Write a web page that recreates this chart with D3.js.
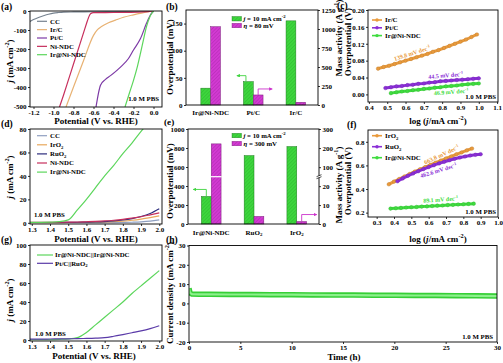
<!DOCTYPE html>
<html>
<head>
<meta charset="utf-8">
<script src="https://cdn.jsdelivr.net/npm/d3@7"></script>
<style>
  body { margin: 0; background: #fff; }
  svg { display: block; font-family: "Liberation Serif", "Times New Roman", serif; font-weight: bold; }
</style>
</head>
<body>
<svg id="fig" width="503" height="363"></svg>
<script>
// ---------------- data ----------------
// (a) HER polarisation curves  [potential V vs RHE, j mA cm-2]
const herCC      = [[-1.235,-55],[-1.2,-45],[-1.15,-34],[-1.1,-25],[-1.05,-17],[-1.0,-11],[-0.95,-8],[-0.9,-6],[-0.8,-5],[-0.6,-4],[-0.3,-2],[0,0]];
const herIrC     = [[-0.875,-505],[-0.8,-400],[-0.7,-262],[-0.6,-128],[-0.56,-98],[-0.52,-82],[-0.45,-62],[-0.38,-48],[-0.3,-33],[-0.2,-20],[-0.12,-11],[-0.05,-4],[0,0]];
const herPtC     = [[-0.575,-505],[-0.53,-390],[-0.48,-360],[-0.43,-340],[-0.33,-295],[-0.25,-250],[-0.2,-205],[-0.13,-145],[-0.07,-65],[-0.03,-20],[0,0]];
const herNiNDC   = [[-0.94,-505],[-0.9,-443],[-0.85,-361],[-0.8,-279],[-0.75,-197],[-0.7,-115],[-0.67,-66],[-0.65,-35],[-0.63,-15],[-0.6,-9],[-0.4,-8],[-0.15,-6],[-0.05,-3],[0,0]];
const herIrNiNDC = [[-0.285,-505],[-0.24,-430],[-0.2,-365],[-0.16,-290],[-0.13,-222],[-0.1,-150],[-0.07,-82],[-0.04,-35],[-0.017,-12],[0,0]];

// (b) HER overpotential / mass activity
const herCats     = ['Ir@Ni-NDC', 'Pt/C', 'Ir/C'];
const herEta10    = [31, 43, 155];      // mV, left axis
const herMassAct  = [1030, 132, 36];    // A g-1 at eta = 80 mV, right axis

// (c) HER Tafel plots  [log j, overpotential V]
const tafIrC     = [[0.45,0.061],[0.48,0.065],[0.51,0.068],[0.54,0.072],[0.57,0.076],[0.60,0.080],[0.63,0.084],[0.66,0.088],[0.69,0.092],[0.72,0.096],[0.75,0.101],[0.78,0.105],[0.81,0.110],[0.84,0.115],[0.87,0.120],[0.90,0.125],[0.93,0.130],[0.96,0.136],[0.99,0.142]];
const tafPtC     = [[0.49,0.015],[0.52,0.017],[0.55,0.019],[0.58,0.020],[0.61,0.022],[0.64,0.023],[0.67,0.025],[0.70,0.026],[0.73,0.028],[0.76,0.029],[0.79,0.031],[0.82,0.032],[0.85,0.033],[0.88,0.034],[0.91,0.035],[0.94,0.036],[0.97,0.037],[1.00,0.038]];
const tafIrNiNDC = [[0.52,0.003],[0.55,0.005],[0.58,0.007],[0.61,0.008],[0.64,0.010],[0.67,0.011],[0.70,0.013],[0.73,0.014],[0.76,0.016],[0.79,0.017],[0.82,0.019],[0.85,0.020],[0.88,0.021],[0.91,0.023],[0.94,0.024],[0.97,0.025],[1.00,0.026]];
const tafHerSlopes = ['139.8', '44.5', '46.9'];

// (d) OER polarisation curves
const oerPot     = [1.29, 1.35, 1.4, 1.45, 1.5, 1.55, 1.6, 1.65, 1.7, 1.75, 1.8, 1.85, 1.9, 1.95, 2.0];
const oerCC      = [0.1, 0.1, 0.1, 0.1, 0.1, 0.1, 0.1, 0.1, 0.2, 0.2, 0.3, 0.5, 0.8, 1.4, 2.5];
const oerIrO2    = [0.2, 0.2, 0.2, 0.2, 0.3, 0.3, 0.4, 0.5, 0.7, 1.0, 1.5, 2.2, 3.2, 4.5, 6.0];
const oerRuO2    = [0.3, 0.3, 0.3, 0.3, 0.4, 0.5, 0.6, 0.8, 1.1, 1.6, 2.4, 3.6, 5.4, 8.0, 12.0];
const oerNiNDC   = [0.5, 0.5, 0.5, 0.5, 0.6, 0.7, 0.9, 1.2, 1.6, 2.2, 3.0, 4.0, 5.2, 6.8, 8.5];
const oerIrNiNDC = [0.3, 0.4, 0.6, 1.0, 2.5, 11, 20, 30, 40, 49, 59, 68, 78, 87, 96];

// (e) OER overpotential / mass activity
const oerCats     = ['Ir@Ni-NDC', 'RuO2', 'IrO2'];
const oerCatText  = ['Ir@Ni-NDC', 'RuO<sub>2</sub>', 'IrO<sub>2</sub>'];
const oerEta10    = [290, 720, 815];    // mV, left axis
const oerMassAct  = [222, 4, 1.3];      // A g-1 at eta = 300 mV, right (broken) axis

// (f) OER Tafel plots
const tafIrO2     = [[0.37,0.440],[0.40,0.463],[0.43,0.485],[0.46,0.506],[0.49,0.527],[0.52,0.547],[0.55,0.567],[0.58,0.586],[0.61,0.605],[0.64,0.623],[0.67,0.641],[0.70,0.659],[0.73,0.676],[0.76,0.694],[0.79,0.710],[0.82,0.727],[0.85,0.743]];
const tafRuO2     = [[0.42,0.466],[0.45,0.490],[0.48,0.512],[0.51,0.532],[0.54,0.551],[0.57,0.569],[0.60,0.586],[0.63,0.602],[0.66,0.617],[0.69,0.631],[0.72,0.644],[0.75,0.656],[0.78,0.667],[0.81,0.676],[0.84,0.684],[0.87,0.690],[0.90,0.695]];
const tafOerIrNi  = [[0.38,0.234],[0.41,0.237],[0.44,0.240],[0.47,0.243],[0.50,0.246],[0.53,0.248],[0.56,0.251],[0.59,0.253],[0.62,0.256],[0.65,0.259],[0.68,0.261],[0.71,0.264],[0.74,0.266],[0.77,0.269],[0.80,0.271],[0.83,0.274],[0.86,0.276]];
const tafOerSlopes = ['663.8', '462.6', '89.1'];

// (g) two-electrode water splitting
const cellPot    = [1.29, 1.35, 1.4, 1.45, 1.5, 1.55, 1.6, 1.65, 1.7, 1.75, 1.8, 1.85, 1.9, 1.95, 2.0];
const cellIrNi   = [0.3, 0.4, 0.5, 0.8, 1.2, 2.5, 8, 16, 24, 32, 40, 49, 57, 65, 73];
const cellPtRuO2 = [1.0, 1.0, 1.1, 1.2, 1.3, 1.5, 1.7, 2.0, 2.5, 4.0, 5.8, 7.7, 9.6, 12.0, 15.0];

// (h) stability test
const stabTime = [0, 0.1, 0.3, 1, 2, 4, 6, 8, 10, 12, 14, 16, 18, 20, 22, 24, 26, 28, 30];
const stabJ    = [7.8, 5.5, 4.8, 4.7, 4.7, 4.6, 4.6, 4.5, 4.5, 4.4, 4.3, 4.3, 4.2, 4.2, 4.1, 4.1, 4.0, 3.9, 3.8];

// tick values
const ticksAx = [-1.2, -1.0, -0.8, -0.6, -0.4, -0.2, 0.0];
const ticksAy = [0, -100, -200, -300, -400, -500];
const ticksBl = [0, 50, 100, 150];
const ticksBr = [0, 250, 500, 750, 1000, 1250];
const ticksCx = [0.4, 0.5, 0.6, 0.7, 0.8, 0.9, 1.0, 1.1];
const ticksCy = [0.00, 0.04, 0.08, 0.12, 0.16, 0.20];
const ticksPot = [1.3, 1.4, 1.5, 1.6, 1.7, 1.8, 1.9, 2.0];
const ticksDy = [0, 20, 40, 60, 80];
const ticksEl = [0, 200, 400, 600, 800, 1000];
const ticksEr = [0, 10, 20, 100, 200, 300];
const ticksFx = [0.3, 0.4, 0.5, 0.6, 0.7, 0.8, 0.9, 1.0];
const ticksFy = [0.2, 0.4, 0.6, 0.8];
const ticksGy = [0, 20, 40, 60, 80, 100];
const ticksHx = [0, 5, 10, 15, 20, 25, 30];
const ticksHy = [-20, -10, 0, 10, 20, 30];

// ---------------- helpers ----------------
const svg = d3.select('#fig');
const defs = svg.append('defs');
const FS = 7;

const GREEN = '#3fd43f', MAGENTA = '#cc33cc';

function richText(t, str, fs) {
  const re = /<(i|sub|sup)>(.*?)<\/\1>/g;
  let last = 0, m, shift = 0;
  const add = (txt, kind) => {
    const want = kind === 'sup' ? -0.4 * fs : kind === 'sub' ? 0.25 * fs : 0;
    const s = t.append('tspan').text(txt);
    if (want !== shift) { s.attr('dy', want - shift); shift = want; }
    if (kind === 'sup' || kind === 'sub') s.attr('font-size', fs * 0.7);
    if (kind === 'i') s.attr('font-style', 'italic');
  };
  while ((m = re.exec(str)) !== null) {
    if (m.index > last) add(str.slice(last, m.index), null);
    add(m[2], m[1]);
    last = re.lastIndex;
  }
  if (last < str.length) add(str.slice(last), null);
}

function label(x, y, str, o = {}) {
  const fs = o.size || FS;
  const t = svg.append('text')
      .attr('x', x).attr('y', y)
      .attr('font-size', fs)
      .attr('text-anchor', o.anchor || 'start')
      .attr('fill', o.fill || '#000');
  if (o.rotate != null) t.attr('transform', `rotate(${o.rotate},${x},${y})`);
  richText(t, str, fs);
  return t;
}

function clip(id, box) {
  defs.append('clipPath').attr('id', id)
    .append('rect').attr('x', box.l).attr('y', box.t)
    .attr('width', box.r - box.l).attr('height', box.b - box.t);
}

function frame(box) {
  svg.append('rect').attr('x', box.l).attr('y', box.t)
    .attr('width', box.r - box.l).attr('height', box.b - box.t)
    .attr('fill', 'none').attr('stroke', '#000').attr('stroke-width', 0.9);
}

function styleAxis(sel) {
  sel.attr('font-family', null).attr('font-size', FS).attr('font-weight', 'bold');
  sel.select('.domain').remove();
  sel.selectAll('.tick line').attr('stroke-width', 0.8);
}

function axisB(box, scale, ticks, fmt) {
  svg.append('g').attr('transform', `translate(0,${box.b})`)
    .call(d3.axisBottom(scale).tickValues(ticks).tickFormat(fmt).tickSize(2).tickPadding(0.8))
    .call(styleAxis);
}
function axisL(box, scale, ticks, fmt) {
  svg.append('g').attr('transform', `translate(${box.l},0)`)
    .call(d3.axisLeft(scale).tickValues(ticks).tickFormat(fmt).tickSize(2).tickPadding(1.5))
    .call(styleAxis);
}
function axisR(box, scale, ticks, fmt) {
  svg.append('g').attr('transform', `translate(${box.r},0)`)
    .call(d3.axisRight(scale).tickValues(ticks).tickFormat(fmt).tickSize(2).tickPadding(1.5))
    .call(styleAxis);
}

function hatch(id, base, line) {
  const p = defs.append('pattern').attr('id', id)
    .attr('patternUnits', 'userSpaceOnUse').attr('width', 2.5).attr('height', 2.5)
    .attr('patternTransform', 'rotate(45)');
  p.append('rect').attr('width', 2.5).attr('height', 2.5).attr('fill', base);
  p.append('line').attr('x1', 0).attr('y1', 0).attr('x2', 0).attr('y2', 2.5)
    .attr('stroke', line).attr('stroke-width', 0.7);
}
hatch('hG', '#3dd63d', '#2aa82a');
hatch('hM', '#d23ad2', '#a020a0');

function arrowHead(id, color) {
  defs.append('marker').attr('id', id).attr('viewBox', '0 0 6 6')
    .attr('refX', 5).attr('refY', 3).attr('markerWidth', 4).attr('markerHeight', 4)
    .attr('orient', 'auto')
    .append('path').attr('d', 'M0,0L6,3L0,6Z').attr('fill', color);
}
arrowHead('arG', GREEN);
arrowHead('arM', MAGENTA);

const fmt1 = d => d.toFixed(1);
const fmt2 = d => d.toFixed(2);
const fmt0 = d => String(d);

function lineLegend(x, y, color, text, dot) {
  svg.append('line').attr('x1', x).attr('x2', x + 10).attr('y1', y).attr('y2', y)
    .attr('stroke', color).attr('stroke-width', dot ? 1.6 : 1.2);
  if (dot) svg.append('circle').attr('cx', x + 5).attr('cy', y).attr('r', 1.7).attr('fill', color);
  label(x + 13, y + 2.3, text, {size: 6.8});
}

// ---------------- (a) HER LSV ----------------
const A = {l: 30, r: 162, t: 11, b: 107};
clip('cA', A);
const xA = d3.scaleLinear().domain([-1.235, 0.085]).range([A.l, A.r]);
const yA = d3.scaleLinear().domain([-505, 0]).range([A.b, A.t]);
const lineA = d3.line().x(d => xA(d[0])).y(d => yA(d[1])).curve(d3.curveMonotoneX);
const seriesA = [
  {name: 'CC', data: herCC, color: '#76828f'},
  {name: 'Ir/C', data: herIrC, color: '#e8b273'},
  {name: 'Pt/C', data: herPtC, color: '#7d3aa6'},
  {name: 'Ni-NDC', data: herNiNDC, color: '#c72f5c'},
  {name: 'Ir@Ni-NDC', data: herIrNiNDC, color: '#5cd65c'}
];
svg.append('g').attr('clip-path', 'url(#cA)').selectAll('path').data(seriesA).join('path')
  .attr('d', s => lineA(s.data)).attr('fill', 'none')
  .attr('stroke', s => s.color).attr('stroke-width', 1.2);
frame(A);
axisB(A, xA, ticksAx, fmt1);
axisL(A, yA, ticksAy, fmt0);
seriesA.forEach((s, i) => lineLegend(37, 21.3 + i * 8.35, s.color, s.name));
label(159, 101, '1.0 M PBS', {anchor: 'end', size: 6.8});
label(96, 124, 'Potential (V vs. RHE)', {anchor: 'middle', size: 9});
label(12.5, 61, '<i>j</i> (mA cm<sup>-2</sup>)', {anchor: 'middle', size: 9, rotate: -90});
label(1, 9.5, '(a)', {size: 9.5});

// ---------------- (b) HER bars ----------------
const B = {l: 186, r: 318, t: 10, b: 105};
const xB = d3.scaleBand().domain(herCats).range([B.l + 2.5, B.r]).paddingInner(0.54).paddingOuter(0.29);
const yBl = d3.scaleLinear().domain([0, 175]).range([B.b, B.t]);
const yBr = d3.scaleLinear().domain([0, 1250]).range([B.b, B.t]);
const bwB = xB.bandwidth() / 2;
svg.append('g').selectAll('rect').data(herCats).join('rect')
  .attr('x', c => xB(c)).attr('width', bwB)
  .attr('y', (c, i) => yBl(herEta10[i])).attr('height', (c, i) => B.b - yBl(herEta10[i]))
  .attr('fill', 'url(#hG)').attr('stroke', '#1f7a1f').attr('stroke-width', 0.5);
svg.append('g').selectAll('rect').data(herCats).join('rect')
  .attr('x', c => xB(c) + bwB).attr('width', bwB)
  .attr('y', (c, i) => yBr(herMassAct[i])).attr('height', (c, i) => B.b - yBr(herMassAct[i]))
  .attr('fill', 'url(#hM)').attr('stroke', '#7a1f7a').attr('stroke-width', 0.5);
frame(B);
axisL(B, yBl, ticksBl, fmt0);
axisR(B, yBr, ticksBr, fmt0);
herCats.forEach(c => label(xB(c) + bwB, 115, c, {anchor: 'middle'}));
// pointer arrows (Pt/C group)
{
  const gx = xB('Pt/C') + 2.5, gy = yBl(herEta10[1]);
  svg.append('path').attr('d', `M${gx},${gy}V${gy - 6}H${gx - 9}`)
    .attr('fill', 'none').attr('stroke', GREEN).attr('stroke-width', 0.9).attr('marker-end', 'url(#arG)');
  const mx = xB('Pt/C') + bwB * 1.5, my = yBr(herMassAct[1]);
  svg.append('path').attr('d', `M${mx},${my}V${my - 6}H${mx + 14}`)
    .attr('fill', 'none').attr('stroke', MAGENTA).attr('stroke-width', 0.9).attr('marker-end', 'url(#arM)');
}
svg.append('rect').attr('x', 232).attr('y', 16.5).attr('width', 9.5).attr('height', 4.5).attr('fill', 'url(#hG)').attr('stroke', '#1f7a1f').attr('stroke-width', 0.4);
svg.append('rect').attr('x', 232).attr('y', 23.3).attr('width', 9.5).attr('height', 4.5).attr('fill', 'url(#hM)').attr('stroke', '#7a1f7a').attr('stroke-width', 0.4);
label(243.5, 21.2, '<i>j</i> = 10 mA cm<sup>-2</sup>', {size: 6.8});
label(243.5, 28, '<i>η</i> = 80 mV', {size: 6.8});
label(172.5, 57, 'Overpotential (mV)', {anchor: 'middle', size: 9, rotate: -90});
label(342, 38, 'Mass activity (A g<sup>-1</sup>)', {anchor: 'middle', size: 9, rotate: -90});
label(166, 9.5, '(b)', {size: 9.5});

// ---------------- (c) HER Tafel ----------------
const C = {l: 368, r: 498, t: 10, b: 102};
clip('cC', C);
const xC = d3.scaleLinear().domain([0.395, 1.105]).range([C.l, C.r]);
const yC = d3.scaleLinear().domain([-0.018, 0.20]).range([C.b, C.t]);
const lineC = d3.line().x(d => xC(d[0])).y(d => yC(d[1]));
const seriesC = [
  {name: 'Ir/C', data: tafIrC, color: '#e99a3c'},
  {name: 'Pt/C', data: tafPtC, color: '#8b2fd6'},
  {name: 'Ir@Ni-NDC', data: tafIrNiNDC, color: '#3fdc3f'}
];
function tafel(series, lineGen, xs, ys, clipId) {
  const g = svg.append('g').attr('clip-path', `url(#${clipId})`);
  series.forEach(s => {
    g.append('path').attr('d', lineGen(s.data)).attr('fill', 'none')
      .attr('stroke', s.color).attr('stroke-width', 3);
    g.selectAll(null).data(s.data).join('circle')
      .attr('cx', d => xs(d[0])).attr('cy', d => ys(d[1])).attr('r', 1.8)
      .attr('fill', s.color).attr('stroke', d3.color(s.color).darker(0.6)).attr('stroke-width', 0.4);
  });
}
tafel(seriesC, lineC, xC, yC, 'cC');
frame(C);
axisB(C, xC, ticksCx, fmt1);
axisL(C, yC, ticksCy, fmt2);
seriesC.forEach((s, i) => lineLegend(372, 20 + i * 7.8, s.color, s.name, true));
label(xC(0.64), yC(0.086) - 3, `${tafHerSlopes[0]} mV dec<sup>-1</sup>`, {anchor: 'middle', size: 6, fill: seriesC[0].color, rotate: -18});
label(xC(0.82), yC(0.032) - 3.5, `${tafHerSlopes[1]} mV dec<sup>-1</sup>`, {anchor: 'middle', size: 6, fill: seriesC[1].color, rotate: -5});
label(xC(0.85), yC(0.020) + 8, `${tafHerSlopes[2]} mV dec<sup>-1</sup>`, {anchor: 'middle', size: 6, fill: seriesC[2].color, rotate: -4});
label(496, 98.5, '1.0 M PBS', {anchor: 'end', size: 6.8});
label(438, 124, 'log (<i>j</i>/mA cm<sup>-2</sup>)', {anchor: 'middle', size: 9});
label(350.5, 42, 'Overpotential (V)', {anchor: 'middle', size: 9, rotate: -90});
label(337, 9, '(c)', {size: 9.5});

// ---------------- (d) OER LSV ----------------
const D = {l: 30, r: 162, t: 129, b: 224};
clip('cD', D);
const xD = d3.scaleLinear().domain([1.29, 2.015]).range([D.l, D.r]);
const yD = d3.scaleLinear().domain([-1, 80]).range([D.b, D.t]);
const lineD = d3.line().x((d, i) => xD(oerPot[i])).y(d => yD(d)).curve(d3.curveMonotoneX);
const seriesD = [
  {name: 'CC', data: oerCC, color: '#8f9fc0'},
  {name: 'IrO<sub>2</sub>', data: oerIrO2, color: '#e8a85c'},
  {name: 'RuO<sub>2</sub>', data: oerRuO2, color: '#2c2c7c'},
  {name: 'Ni-NDC', data: oerNiNDC, color: '#c72f5c'},
  {name: 'Ir@Ni-NDC', data: oerIrNiNDC, color: '#5cd65c'}
];
svg.append('g').attr('clip-path', 'url(#cD)').selectAll('path').data(seriesD).join('path')
  .attr('d', s => lineD(s.data)).attr('fill', 'none')
  .attr('stroke', s => s.color).attr('stroke-width', 1.2);
frame(D);
axisB(D, xD, ticksPot, fmt1);
axisL(D, yD, ticksDy, fmt0);
seriesD.forEach((s, i) => lineLegend(37, 135.7 + i * 9.1, s.color, s.name));
label(34, 217, '1.0 M PBS', {size: 6.8});
label(96, 242.2, 'Potential (V vs. RHE)', {anchor: 'middle', size: 9});
label(12.5, 177, '<i>j</i> (mA cm<sup>-2</sup>)', {anchor: 'middle', size: 9, rotate: -90});
label(1, 127, '(d)', {size: 9.5});

// ---------------- (e) OER bars ----------------
const E = {l: 188, r: 319, t: 129, b: 224};
const xE = d3.scaleBand().domain(oerCats).range([E.l + 1, E.r]).paddingInner(0.54).paddingOuter(0.29);
const yEl = d3.scaleLinear().domain([0, 1000]).range([E.b, E.t]);
const yBreak = 176.7;
const yEr = d3.scaleLinear().domain([0, 25, 50, 300]).range([E.b, yBreak, yBreak, E.t]);
const bwE = xE.bandwidth() / 2;
svg.append('g').selectAll('rect').data(oerCats).join('rect')
  .attr('x', c => xE(c)).attr('width', bwE)
  .attr('y', (c, i) => yEl(oerEta10[i])).attr('height', (c, i) => E.b - yEl(oerEta10[i]))
  .attr('fill', 'url(#hG)').attr('stroke', '#1f7a1f').attr('stroke-width', 0.5);
svg.append('g').selectAll('rect').data(oerCats).join('rect')
  .attr('x', c => xE(c) + bwE).attr('width', bwE)
  .attr('y', (c, i) => yEr(oerMassAct[i])).attr('height', (c, i) => E.b - yEr(oerMassAct[i]))
  .attr('fill', 'url(#hM)').attr('stroke', '#7a1f7a').attr('stroke-width', 0.5);
// axis break stripe across tall bars
oerCats.forEach((c, i) => {
  if (oerMassAct[i] > 50) svg.append('rect').attr('x', xE(c) + bwE - 0.5).attr('y', yBreak - 0.6)
    .attr('width', bwE + 1).attr('height', 1.2).attr('fill', '#fff');
});
frame(E);
axisL(E, yEl, ticksEl, fmt0);
axisR(E, yEr, ticksEr, fmt0);
svg.append('rect').attr('x', E.r - 1).attr('y', yBreak - 1).attr('width', 2).attr('height', 2).attr('fill', '#fff');
[-1, 1].forEach(o => svg.append('line').attr('x1', E.r - 2.5).attr('x2', E.r + 2.5)
  .attr('y1', yBreak + o + 1).attr('y2', yBreak + o - 1).attr('stroke', '#000').attr('stroke-width', 0.7));
oerCats.forEach((c, i) => label(xE(c) + bwE, 234.5, oerCatText[i], {anchor: 'middle'}));
{
  const gx = xE(oerCats[0]) + bwE / 2, gy = yEl(oerEta10[0]);
  svg.append('path').attr('d', `M${gx},${gy}V${gy - 7}H${gx - 13}`)
    .attr('fill', 'none').attr('stroke', GREEN).attr('stroke-width', 0.9).attr('marker-end', 'url(#arG)');
  const mx = xE(oerCats[2]) + bwE * 1.5, my = yEr(oerMassAct[2]);
  svg.append('path').attr('d', `M${mx},${my}V${my - 7}H${mx + 15}`)
    .attr('fill', 'none').attr('stroke', MAGENTA).attr('stroke-width', 0.9).attr('marker-end', 'url(#arM)');
}
svg.append('rect').attr('x', 232).attr('y', 133.3).attr('width', 9.5).attr('height', 4.5).attr('fill', 'url(#hG)').attr('stroke', '#1f7a1f').attr('stroke-width', 0.4);
svg.append('rect').attr('x', 232).attr('y', 141.3).attr('width', 9.5).attr('height', 4.5).attr('fill', 'url(#hM)').attr('stroke', '#7a1f7a').attr('stroke-width', 0.4);
label(243.5, 138, '<i>j</i> = 10 mA cm<sup>-2</sup>', {size: 6.8});
label(243.5, 146, '<i>η</i> = 300 mV', {size: 6.8});
label(172.5, 181, 'Overpotential (mV)', {anchor: 'middle', size: 9, rotate: -90});
label(342, 185, 'Mass activity (A g<sup>-1</sup>)', {anchor: 'middle', size: 9, rotate: -90});
label(164, 124.5, '(e)', {size: 9.2});

// ---------------- (f) OER Tafel ----------------
const F = {l: 368, r: 498, t: 130, b: 217};
clip('cF', F);
const xF = d3.scaleLinear().domain([0.25, 1.0]).range([F.l, F.r]);
const yF = d3.scaleLinear().domain([0.163, 0.9]).range([F.b, F.t]);
const lineF = d3.line().x(d => xF(d[0])).y(d => yF(d[1]));
const seriesF = [
  {name: 'IrO<sub>2</sub>', data: tafIrO2, color: '#e99a3c'},
  {name: 'RuO<sub>2</sub>', data: tafRuO2, color: '#8b2fd6'},
  {name: 'Ir@Ni-NDC', data: tafOerIrNi, color: '#3fdc3f'}
];
tafel(seriesF, lineF, xF, yF, 'cF');
frame(F);
axisB(F, xF, ticksFx, fmt1);
axisL(F, yF, ticksFy, fmt1);
seriesF.forEach((s, i) => lineLegend(372, 135.7 + i * 11, s.color, s.name, true));
label(xF(0.68), yF(0.65) - 3, `${tafOerSlopes[0]} mV dec<sup>-1</sup>`, {anchor: 'middle', size: 6, fill: seriesF[0].color, rotate: -25});
label(xF(0.66), yF(0.617) + 9, `${tafOerSlopes[1]} mV dec<sup>-1</sup>`, {anchor: 'middle', size: 6, fill: seriesF[1].color, rotate: -17});
label(xF(0.67), yF(0.26) - 4, `${tafOerSlopes[2]} mV dec<sup>-1</sup>`, {anchor: 'middle', size: 6, fill: seriesF[2].color, rotate: -4});
label(496, 214, '1.0 M PBS', {anchor: 'end', size: 6.8});
label(438, 241.5, 'log (<i>j</i>/mA cm<sup>-2</sup>)', {anchor: 'middle', size: 9});
label(350.5, 181, 'Overpotential (V)', {anchor: 'middle', size: 9, rotate: -90});
label(347, 128, '(f)', {size: 9.5});

// ---------------- (g) two-electrode ----------------
const G = {l: 30, r: 162, t: 245, b: 341};
clip('cG', G);
const xG = d3.scaleLinear().domain([1.29, 2.015]).range([G.l, G.r]);
const yG = d3.scaleLinear().domain([-1, 100]).range([G.b, G.t]);
const lineG = d3.line().x((d, i) => xG(cellPot[i])).y(d => yG(d)).curve(d3.curveMonotoneX);
const seriesG = [
  {name: 'Ir@Ni-NDC||Ir@Ni-NDC', data: cellIrNi, color: '#5cd65c'},
  {name: 'Pt/C||RuO<sub>2</sub>', data: cellPtRuO2, color: '#5a3aa8'}
];
svg.append('g').attr('clip-path', 'url(#cG)').selectAll('path').data(seriesG).join('path')
  .attr('d', s => lineG(s.data)).attr('fill', 'none')
  .attr('stroke', s => s.color).attr('stroke-width', 1.2);
frame(G);
axisB(G, xG, ticksPot, fmt1);
axisL(G, yG, ticksGy, fmt0);
seriesG.forEach((s, i) => {
  svg.append('line').attr('x1', 37).attr('x2', 53).attr('y1', 255 + i * 8.3).attr('y2', 255 + i * 8.3)
    .attr('stroke', s.color).attr('stroke-width', 1.2);
  label(55, 257.3 + i * 8.3, s.name, {size: 6.8});
});
label(35, 336, '1.0 M PBS', {size: 6.8});
label(94, 358.5, 'Potential (V vs. RHE)', {anchor: 'middle', size: 9});
label(12.5, 300, '<i>j</i> (mA cm<sup>-2</sup>)', {anchor: 'middle', size: 9, rotate: -90});
label(1, 243, '(g)', {size: 9.5});

// ---------------- (h) stability ----------------
const H = {l: 189, r: 497, t: 245.5, b: 342};
clip('cH', H);
const xH = d3.scaleLinear().domain([0, 30]).range([H.l, H.r]);
const yH = d3.scaleLinear().domain([-20, 30]).range([H.b, H.t]);
const lineH = d3.line().x((d, i) => xH(stabTime[i])).y(d => yH(d));
const gH = svg.append('g').attr('clip-path', 'url(#cH)');
gH.append('path').attr('d', lineH(stabJ)).attr('fill', 'none').attr('stroke', '#36cf36').attr('stroke-width', 5.5);
gH.append('path').attr('d', lineH(stabJ)).attr('fill', 'none').attr('stroke', '#8cf08c').attr('stroke-width', 2.2);
frame(H);
axisB(H, xH, ticksHx, fmt0);
axisL(H, yH, ticksHy, fmt0);
label(493, 338.5, '1.0 M PBS', {anchor: 'end', size: 6.8});
label(344, 359.5, 'Time (h)', {anchor: 'middle', size: 9});
label(172.5, 293, 'Current density (mA cm<sup>-2</sup>)', {anchor: 'middle', size: 9, rotate: -90});
label(166, 243, '(h)', {size: 9.5});
</script>
</body>
</html>
